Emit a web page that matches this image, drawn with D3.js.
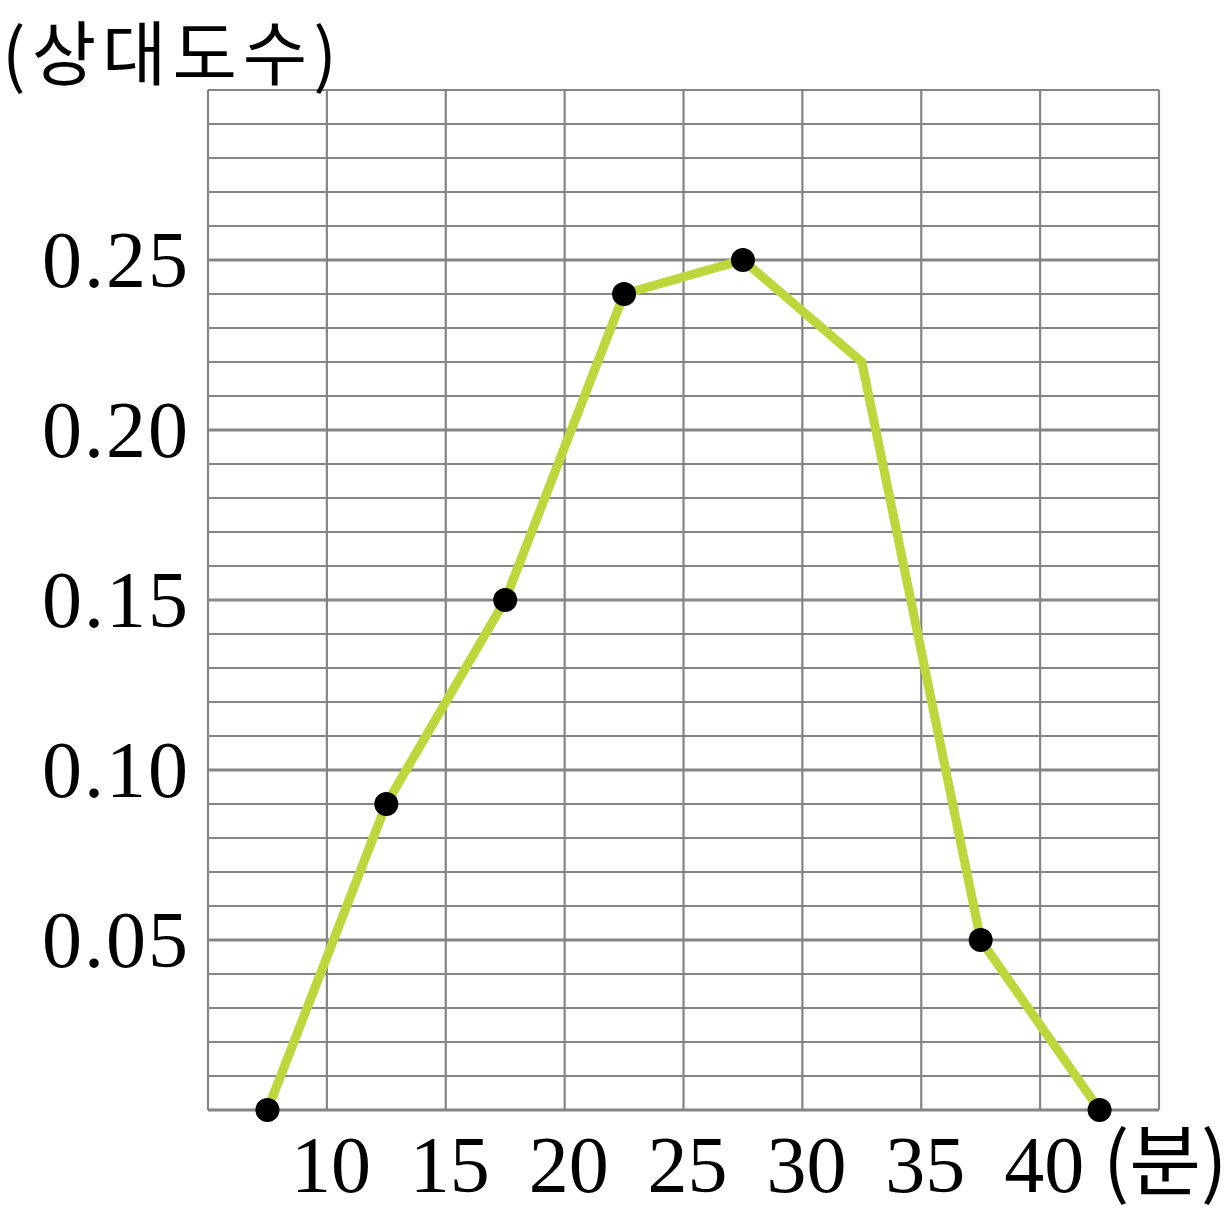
<!DOCTYPE html>
<html><head><meta charset="utf-8">
<script src="https://cdn.jsdelivr.net/npm/d3@7"></script>
<style>body{margin:0;background:#fff}svg{display:block}</style>
</head><body>
<script>
const xValues = [7.5, 12.5, 17.5, 22.5, 27.5, 32.5, 37.5, 42.5];
const yValues = [0, 0.09, 0.15, 0.24, 0.25, 0.22, 0.05, 0];
const showDot = [true, true, true, true, true, false, true, true];
const xTickLabels = [10, 15, 20, 25, 30, 35, 40];
const yTickLabels = [0.05, 0.10, 0.15, 0.20, 0.25];
const yTitle = "(상대도수)";
const xUnit = "(분)";

const W = 1230, H = 1215;
const svg = d3.select("body").append("svg").attr("width", W).attr("height", H);
const x = d3.scaleLinear().domain([5, 45]).range([208, 1159]);
const y = d3.scaleLinear().domain([0, 0.3]).range([1110, 90]);
const grid = svg.append("g");
const gridColor = "#858585";
d3.range(0, 31).forEach(i => {
  const v = i / 100;
  const major = i % 5 === 0;
  grid.append("line").attr("x1", x(5)).attr("x2", x(45))
    .attr("y1", y(v)).attr("y2", y(v))
    .attr("stroke", gridColor).attr("stroke-width", major && i !== 30 ? 3 : 2.2);
});
d3.range(5, 46, 5).forEach(v => {
  grid.append("line").attr("x1", x(v)).attr("x2", x(v))
    .attr("y1", y(0.3)).attr("y2", y(0))
    .attr("stroke", gridColor).attr("stroke-width", 2.2);
});
const pts = xValues.map((d, i) => [x(d), y(yValues[i])]);
svg.append("path").attr("d", d3.line()(pts)).attr("fill", "none")
  .attr("stroke", "#bdd63b").attr("stroke-width", 9).attr("stroke-linejoin", "miter");
svg.append("g").selectAll("circle").data(xValues.map((d, i) => i).filter(i => showDot[i]))
  .join("circle").attr("cx", i => x(xValues[i])).attr("cy", i => y(yValues[i]))
  .attr("r", 12).attr("fill", "#000");
const font = "'Liberation Serif', serif";
svg.append("g").selectAll("text").data(xTickLabels).join("text")
  .attr("x", d => x(d) + 4).attr("y", 1192).attr("text-anchor", "middle")
  .attr("font-family", font).attr("font-size", 80).text(d => d);
svg.append("g").selectAll("text").data(yTickLabels).join("text")
  .attr("x", 190).attr("y", d => y(d) + 27).attr("text-anchor", "end")
  .attr("font-family", font).attr("font-size", 80).attr("letter-spacing", 2)
  .text(d => d.toFixed(2));
svg.append("text").attr("x", 2).attr("y", 80)
  .attr("font-family", "'Noto Sans CJK KR', sans-serif").attr("font-size", 70)
  .attr("letter-spacing", 6).text(yTitle);
svg.append("text").attr("x", 1103).attr("y", 1190)
  .attr("font-family", "'Noto Sans CJK KR', sans-serif").attr("font-size", 78).text(xUnit);
</script>
</body></html>
